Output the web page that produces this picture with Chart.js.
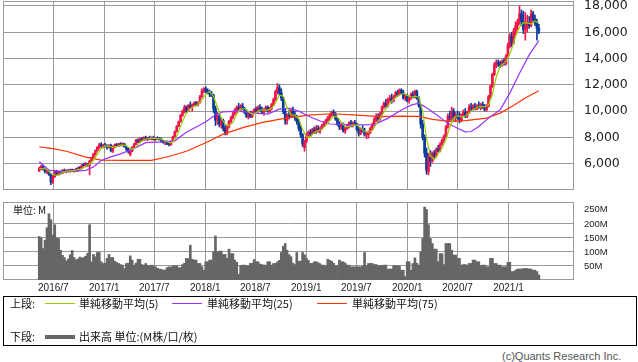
<!DOCTYPE html>
<html lang="ja">

  <head>
    <meta charset="UTF-8">
    <title>株価チャート</title>
    <script src="https://cdn.jsdelivr.net/npm/chart.js@4/dist/chart.umd.min.js"></script>
    <style>
      body { margin: 0; background: #fff; }
      #page { position: relative; width: 638px; height: 362px; overflow: hidden; font-family: 'Noto Sans CJK JP', sans-serif; color: #111; }
      #priceChart { position: absolute; left: 0; top: 0; }
      #volumeChart { position: absolute; left: 0; top: 196px; }
      .txt { position: absolute; font-size: 11px; line-height: 14px; white-space: nowrap; }
      .swatch { position: absolute; width: 30px; height: 0; border-top: 1px solid #000; }
      #legendBox { position: absolute; left: 3px; top: 296px; width: 634px; height: 50px; box-sizing: border-box; border: 1px solid #000; }
      #unit { position: absolute; left: 13px; top: 203px; font-size: 10px; line-height: 14px; }
      #copy { position: absolute; left: 502px; top: 350px; font: 11px 'Liberation Sans', sans-serif; color: #555; }
    </style>
  </head>

  <body>
    <div id="page">
      <canvas id="priceChart" width="638" height="196"></canvas>
      <canvas id="volumeChart" width="638" height="100"></canvas>
      <div id="unit">単位: M</div>
      <div id="legendBox"></div>
      <div class="txt" style="left:10px; top:296px">上段:</div>
      <div class="swatch" style="left:45px; top:303px; border-top-color:#99cc00"></div>
      <div class="txt" style="left:79px; top:296px">単純移動平均(5)</div>
      <div class="swatch" style="left:172px; top:303px; border-top-color:#9933ff"></div>
      <div class="txt" style="left:207px; top:296px">単純移動平均(25)</div>
      <div class="swatch" style="left:317px; top:303px; border-top-color:#ff3300"></div>
      <div class="txt" style="left:352px; top:296px">単純移動平均(75)</div>
      <div class="txt" style="left:10px; top:329px">下段:</div>
      <div class="swatch" style="left:45px; top:335px; border-top:4px solid #666"></div>
      <div class="txt" style="left:79px; top:329px">出来高 単位:(M株/口/枚)</div>
      <div id="copy">(c)Quants Research Inc.</div>
    </div>

    <script>
      // weekly candles, first week 2016-05-11
      const firstWeek = [2016, 5, 11]
      const monthLabels = ['2016/7', '2017/1', '2017/7', '2018/1', '2018/7', '2019/1', '2019/7', '2020/1', '2020/7', '2021/1']
      const priceTicks = [6000, 8000, 10000, 12000, 14000, 16000, 18000]
      const volumeTicks = [50, 100, 150, 200, 250]

      const opens = [
        5450, 5650, 5800, 5550, 5400, 5450, 5200, 4600, 5000, 5400,
        5250, 5350, 5300, 5500, 5400, 5450, 5400, 5550, 5450, 5500,
        5450, 5700, 5650, 5900, 5850, 5950, 5900, 6200, 6450, 6750,
        7000, 7250, 7450, 7350, 7400, 7300, 7250, 7400, 7000, 7300,
        7450, 7350, 7500, 7450, 7500, 7300, 7100, 6700, 6950, 7250,
        7500, 7800, 7650, 7900, 7800, 8000, 7850, 7950, 7900, 8000,
        7850, 7950, 7900, 7850, 7700, 7600, 7700, 7500, 7450, 7700,
        8050, 8450, 8850, 9200, 9700, 10000, 10300, 10000, 10450, 10300,
        10500, 10600, 10500, 10650, 11100, 11550, 11700, 11500, 11400, 11300,
        11200, 10200, 9300, 9600, 9000, 9300, 8700, 8400, 8800, 9200,
        9500, 9800, 10100, 10300, 10200, 10400, 10200, 9900, 9600, 9800,
        9600, 9900, 10100, 10000, 10300, 10100, 9900, 10100, 10300, 10000,
        10200, 10500, 10900, 11500, 11800, 11400, 11000, 10000, 9300, 9700,
        9600, 10000, 9700, 9500, 9200, 8700, 8200, 7200, 7700, 8200,
        8400, 8300, 8600, 8400, 8700, 8500, 8700, 8900, 9100, 9300,
        9500, 9700, 9900, 9700, 9400, 9000, 8800, 9000, 8500, 8700,
        8900, 9100, 8900, 9100, 9000, 8600, 8300, 8600, 8500, 8200,
        8200, 8400, 8700, 9000, 9400, 9600, 9400, 9800, 10300, 10600,
        10400, 10900, 11000, 10800, 11100, 11400, 11300, 11600, 11400, 11000,
        11200, 10800, 11000, 11300, 11100, 11500, 11000, 10400, 9000, 8000,
        6800, 5400, 6500, 6200, 6800, 6600, 7100, 7000, 7500, 7800,
        8100, 8800, 9600, 9400, 10000, 9500, 9700, 9600, 9300, 9700,
        9900, 9600, 9900, 10300, 10200, 10400, 10200, 10400, 10300, 10500,
        10300, 10100, 10400, 11100, 11900, 12800, 13500, 13700, 13600, 13500,
        13800, 13600, 14200, 15000, 15700, 15200, 16100, 16500, 16800, 17400,
        16800, 16200, 16400, 16700, 16500, 17400, 17000, 16700, 16300
      ]
      const highs = [
        5750, 5900, 5850, 5650, 5600, 5500, 5250, 5100, 5500, 5500,
        5450, 5450, 5550, 5600, 5550, 5550, 5600, 5600, 5550, 5650,
        5750, 5800, 5950, 6050, 6100, 6000, 6250, 6500, 6800, 7050,
        7300, 7550, 7600, 7500, 7550, 7450, 7450, 7500, 7350, 7500,
        7550, 7550, 7600, 7600, 7550, 7350, 7200, 7000, 7300, 7550,
        7850, 7900, 7950, 8000, 8050, 8100, 8000, 8100, 8050, 8100,
        8000, 8050, 8000, 7950, 7800, 7750, 7750, 7600, 7750, 8100,
        8500, 8900, 9250, 9750, 10100, 10450, 10400, 10500, 10700, 10550,
        10700, 10750, 10700, 11200, 11700, 11800, 11850, 11700, 11600, 11500,
        11300, 10400, 9900, 9800, 9500, 9400, 8900, 8900, 9300, 9600,
        9900, 10200, 10400, 10600, 10500, 10600, 10300, 10100, 9900, 10000,
        10000, 10200, 10300, 10400, 10500, 10300, 10200, 10400, 10400, 10300,
        10600, 11000, 11600, 12100, 12000, 11700, 11100, 10200, 9800, 10100,
        10200, 10300, 10000, 9700, 9400, 8900, 8300, 7800, 8300, 8500,
        8600, 8700, 8800, 8900, 8900, 8800, 9000, 9200, 9400, 9600,
        9800, 10000, 10100, 9900, 9500, 9200, 9100, 9100, 8800, 9000,
        9200, 9300, 9200, 9300, 9100, 8800, 8700, 8900, 8700, 8400,
        8500, 8800, 9100, 9500, 9800, 9800, 9900, 10400, 10700, 10900,
        11000, 11200, 11300, 11200, 11500, 11600, 11700, 11700, 11600, 11300,
        11300, 11100, 11400, 11500, 11600, 11600, 11100, 10500, 9300, 8200,
        7200, 6800, 7000, 6900, 7000, 7200, 7400, 7600, 7900, 8200,
        8900, 9800, 10000, 10300, 10200, 9900, 10000, 9900, 9800, 10100,
        10200, 10000, 10500, 10600, 10500, 10600, 10500, 10700, 10600, 10700,
        10500, 10500, 11200, 12000, 12900, 13700, 13900, 13900, 13800, 13900,
        14000, 14300, 15200, 15900, 16000, 16300, 16800, 17000, 18000, 17700,
        17600, 17500, 17300, 17200, 17700, 17600, 17300, 17000, 16600
      ]
      const lows = [
        5400, 5550, 5500, 5300, 5250, 5100, 4400, 4500, 4950, 5150,
        5150, 5200, 5250, 5350, 5300, 5350, 5350, 5400, 5350, 5400,
        5400, 5600, 5600, 5800, 5750, 5800, 5150, 6150, 6400, 6650,
        6950, 7150, 7250, 7200, 7250, 7100, 7200, 6900, 6850, 7200,
        7300, 7300, 7350, 7350, 7250, 7000, 6800, 6600, 6900, 7200,
        7450, 7600, 7600, 7750, 7750, 7800, 7750, 7850, 7800, 7800,
        7750, 7850, 7800, 7650, 7550, 7450, 7450, 7350, 7400, 7650,
        8000, 8400, 8800, 9150, 9600, 9850, 9900, 9950, 10200, 10000,
        10350, 10400, 10400, 10600, 11050, 11400, 11400, 11300, 11100, 11100,
        9900, 8900, 9000, 8800, 8700, 8500, 8200, 8200, 8700, 9100,
        9400, 9700, 9900, 10100, 10000, 10100, 9800, 9500, 9400, 9500,
        9500, 9800, 9900, 9900, 10000, 9800, 9700, 10000, 9900, 9900,
        10100, 10400, 10800, 11300, 11200, 10800, 9800, 9000, 9000, 9400,
        9500, 9600, 9300, 9000, 8500, 8000, 7300, 6950, 7600, 8000,
        8100, 8200, 8300, 8300, 8400, 8300, 8600, 8800, 9000, 9200,
        9300, 9600, 9600, 9300, 8900, 8600, 8600, 8400, 8300, 8600,
        8700, 8800, 8800, 8900, 8500, 8100, 8200, 8400, 8100, 7900,
        7950, 8300, 8600, 8900, 9200, 9200, 9300, 9700, 10200, 10300,
        10300, 10700, 10600, 10700, 11000, 11100, 11200, 11300, 10900, 10800,
        10700, 10600, 10900, 11000, 11000, 10900, 10300, 8700, 7800, 6500,
        5200, 5150, 5800, 6100, 6400, 6500, 6900, 6900, 7400, 7600,
        8000, 8700, 9300, 9300, 9300, 9200, 9400, 9100, 9200, 9600,
        9500, 9500, 9800, 10000, 10100, 10100, 10100, 10200, 10100, 10200,
        10000, 10000, 10300, 11000, 11800, 12700, 13300, 13400, 13300, 13400,
        13500, 13500, 14100, 14800, 14900, 15100, 15800, 16200, 16600, 16500,
        15900, 15400, 16000, 16300, 16400, 16800, 16500, 15400, 15900
      ]
      const closes = [
        5650, 5800, 5550, 5400, 5500, 5200, 4600, 5000, 5400, 5250,
        5350, 5300, 5500, 5400, 5450, 5400, 5550, 5450, 5500, 5450,
        5700, 5650, 5900, 5850, 6000, 5900, 6200, 6450, 6750, 7000,
        7250, 7450, 7350, 7400, 7300, 7250, 7400, 7000, 7300, 7450,
        7350, 7500, 7450, 7500, 7300, 7100, 6900, 6950, 7250, 7500,
        7800, 7650, 7900, 7800, 8000, 7850, 7950, 7900, 8000, 7850,
        7950, 7900, 7850, 7700, 7600, 7700, 7500, 7450, 7700, 8050,
        8450, 8850, 9200, 9700, 10000, 10300, 10000, 10450, 10300, 10500,
        10600, 10500, 10650, 11100, 11550, 11700, 11500, 11400, 11300, 11200,
        10200, 9300, 9600, 9000, 9300, 8700, 8400, 8800, 9200, 9500,
        9800, 10100, 10300, 10200, 10400, 10200, 9900, 9600, 9800, 9600,
        9900, 10100, 10000, 10300, 10100, 9900, 10100, 10300, 10000, 10200,
        10500, 10900, 11500, 11800, 11400, 11000, 10000, 9300, 9700, 9600,
        10000, 9700, 9500, 9200, 8700, 8200, 7500, 7700, 8200, 8400,
        8300, 8600, 8400, 8700, 8500, 8700, 8900, 9100, 9300, 9500,
        9700, 9900, 9700, 9400, 9000, 8800, 9000, 8500, 8700, 8900,
        9100, 8900, 9100, 9000, 8600, 8300, 8600, 8500, 8200, 8300,
        8400, 8700, 9000, 9400, 9600, 9400, 9800, 10300, 10600, 10400,
        10900, 11000, 10800, 11100, 11400, 11300, 11600, 11400, 11000, 11200,
        10800, 11000, 11300, 11100, 11500, 11000, 10400, 9000, 8000, 6800,
        5500, 6500, 6200, 6800, 6600, 7100, 7000, 7500, 7800, 8100,
        8800, 9600, 9500, 10000, 9500, 9700, 9600, 9300, 9700, 9900,
        9600, 9900, 10300, 10200, 10400, 10200, 10400, 10300, 10500, 10300,
        10100, 10400, 11100, 11900, 12800, 13500, 13700, 13600, 13500, 13800,
        13600, 14200, 15000, 15700, 15200, 16100, 16500, 16800, 17400, 16800,
        16200, 16400, 16700, 16500, 17400, 17000, 16700, 16300, 16100
      ]
      // 出来高 (M)
      const volumes = [
        155, 150, 112, 142, 186, 236, 215, 160, 197, 150,
        148, 106, 88, 80, 68, 75, 90, 105, 80, 72,
        75, 82, 78, 80, 85, 95, 197, 65, 91, 83,
        98, 98, 65, 59, 60, 77, 91, 80, 80, 67,
        62, 59, 55, 53, 41, 59, 60, 86, 71, 53,
        60, 74, 74, 55, 53, 59, 52, 50, 53, 50,
        47, 42, 39, 38, 35, 36, 44, 47, 46, 51,
        50, 51, 44, 44, 55, 60, 77, 76, 124, 74,
        71, 71, 59, 59, 47, 35, 65, 65, 71, 71,
        100, 157, 100, 103, 103, 91, 91, 77, 110, 94,
        94, 71, 63, 20, 51, 53, 53, 50, 50, 59,
        60, 73, 65, 65, 57, 55, 53, 53, 65, 65,
        53, 59, 59, 65, 70, 98, 120, 130, 106, 90,
        83, 60, 55, 98, 67, 67, 98, 90, 77, 70,
        59, 59, 65, 65, 62, 58, 53, 53, 51, 74,
        70, 67, 60, 51, 51, 71, 65, 65, 60, 53,
        53, 47, 47, 47, 47, 47, 47, 50, 98, 50,
        59, 59, 59, 55, 55, 51, 51, 51, 53, 53,
        39, 39, 39, 51, 51, 50, 50, 35, 35, 12,
        65, 65, 35, 59, 79, 60, 53, 100, 148, 260,
        251, 197, 148, 130, 110, 110, 65, 94, 94, 55,
        130, 130, 130, 106, 89, 89, 77, 77, 53, 55,
        55, 53, 59, 59, 71, 71, 65, 65, 51, 53,
        53, 47, 47, 77, 77, 59, 59, 53, 53, 47,
        47, 47, 63, 63, 30, 30, 35, 39, 39, 39,
        41, 41, 41, 39, 39, 35, 35, 30, 18
      ]
      // 単純移動平均(5): one reading every 2 weeks
      const ma5 = [
        5600, 5650, 5580, 5250, 5140, 5120, 5360, 5400, 5460,
        5470, 5530, 5640, 5820, 5970, 6260, 6730, 7160, 7350,
        7340, 7250, 7300, 7410, 7420, 7250, 7100, 7280, 7620,
        7830, 7900, 7940, 7930, 7910, 7800, 7670, 7590, 7830,
        8450, 9240, 9840, 10210, 10370, 10510, 10880, 11300, 11490,
        11120, 10320, 9480, 9000, 8880, 9140, 9780, 10160, 10200,
        9980, 9760, 9880, 10080, 10080, 10080, 10220, 10620, 11220,
        11140, 10280, 9720, 9700, 9420, 8620, 8060, 8020, 8380,
        8500, 8640, 8900, 9300, 9620, 9540, 9180, 8800, 8840,
        8940, 8940, 8720, 8440, 8400, 8520, 9020, 9440, 9940,
        10400, 10740, 11040, 11240, 11340, 11200, 11060, 11140, 11060,
        9980, 7940, 6600, 6320, 6740, 7200, 7840, 8760, 9480,
        9660, 9560, 9620, 9880, 10080, 10300, 10360, 10320, 10480,
        11260, 12600, 13420, 13640, 14020, 14740, 15700, 16400, 16740,
        16700, 16640, 16860, 16700
      ]
      // 単純移動平均(25)
      const ma25Weeks = [0, 5, 10, 16, 21, 24, 28, 32, 37, 42, 48, 55, 64, 70, 76, 83, 86, 91, 95, 103, 111, 118, 124, 129, 134, 140, 145, 150, 164, 173, 180, 187, 192, 196, 200, 205, 211, 216, 220, 223, 227, 232, 238, 243, 248, 253, 258]
      const ma25Values = [6150, 5520, 5420, 5420, 5480, 5500, 5750, 6250, 6520, 6750, 7090, 7600, 7660, 7740, 8400, 8950, 9200, 9700, 9950, 10000, 9850, 9780, 10150, 10220, 10000, 9550, 9250, 9020, 8950, 8980, 9450, 10080, 10460, 10600, 10250, 9750, 9070, 8700, 8420, 8450, 8830, 9470, 10100, 11370, 12890, 14280, 15370]
      // 単純移動平均(75)
      const ma75Weeks = [0, 7, 14, 24, 32, 43, 58, 67, 76, 86, 95, 106, 116, 126, 139, 151, 164, 176, 186, 196, 203, 212, 220, 231, 238, 244, 251, 258]
      const ma75Values = [7290, 7150, 6950, 6500, 6270, 6250, 6250, 6550, 6950, 7600, 8250, 8780, 9170, 9430, 9690, 9800, 9690, 9580, 9620, 9600, 9380, 9220, 9280, 9470, 9850, 10360, 11000, 11550]

      const gridColor = '#9a9a9a'
      const upColor = '#f0164a'
      const downColor = '#0b3a9c'

      // x axis in days since 2016-01-01
      const base = Date.UTC(2016, 0, 1)
      const toDay = (y, m, d) => (Date.UTC(y, m - 1, d) - base) / 86400000
      const startDay = toDay(...firstWeek)
      const weekX = closes.map((c, i) => startDay + 7 * i)
      const monthX = monthLabels.map(l => {
        const [y, m] = l.split('/').map(Number)
        return toDay(y, m, 1)
      })
      const xMin = 0
      const xMax = 2064

      const isUp = i => closes[i] >= opens[i]
      const candleColor = c => isUp(c.dataIndex) ? upColor : downColor

      const framePlugin = {
        id: 'frame',
        beforeDatasetsDraw(chart) {
          const { ctx, chartArea: a } = chart
          ctx.save()
          ctx.strokeStyle = gridColor
          ctx.lineWidth = 1
          ctx.strokeRect(Math.round(a.left) + 0.5, Math.round(a.top) + 0.5,
            Math.round(a.right - a.left) - 1, Math.round(a.bottom - a.top) - 1)
          ctx.restore()
        }
      }

      const xScale = (showLabels, height) => ({
        type: 'linear',
        min: xMin,
        max: xMax,
        offset: false,
        afterBuildTicks: s => { s.ticks = monthX.map(v => ({ value: v })) },
        ticks: {
          display: showLabels,
          autoSkip: false,
          maxRotation: 0,
          padding: 2,
          color: '#222',
          font: { family: 'Liberation Sans', size: 10 },
          callback: (v, i) => monthLabels[i]
        },
        grid: { color: gridColor, drawTicks: false, offset: false },
        border: { display: false },
        afterFit: s => { s.height = height; s.paddingLeft = 0; s.paddingRight = 0 }
      })

      const line = (data, color) => ({
        type: 'line',
        data,
        borderColor: color,
        borderWidth: 1.2,
        pointRadius: 0,
        fill: false,
        tension: 0
      })

      Chart.defaults.font.family = 'DejaVu Sans'

      new Chart(document.getElementById('priceChart'), {
        type: 'bar',
        data: {
          datasets: [
            { ...line(ma5.map((v, k) => ({ x: weekX[k * 2], y: v })), '#99cc00'), order: 0 },
            { ...line(ma25Weeks.map((w, k) => ({ x: weekX[w], y: ma25Values[k] })), '#9933ff'), order: 1 },
            { ...line(ma75Weeks.map((w, k) => ({ x: weekX[w], y: ma75Values[k] })), '#ff3300'), order: 2 },
            {
              data: opens.map((o, i) => ({ x: weekX[i], y: [o, closes[i]] })),
              backgroundColor: candleColor,
              barThickness: 2,
              minBarLength: 1,
              grouped: false,
              order: 3
            },
            {
              data: lows.map((l, i) => ({ x: weekX[i], y: [l, highs[i]] })),
              backgroundColor: candleColor,
              barThickness: 1,
              grouped: false,
              order: 4
            }
          ]
        },
        options: {
          responsive: false,
          animation: false,
          events: [],
          layout: { padding: { left: 3, top: 1, right: 0, bottom: 0 } },
          plugins: { legend: { display: false }, tooltip: { enabled: false } },
          scales: {
            x: xScale(false, 6),
            y: {
              position: 'right',
              min: 4000,
              max: 18380,
              afterBuildTicks: s => { s.ticks = priceTicks.map(v => ({ value: v })) },
              ticks: {
                padding: 10,
                color: '#222',
                font: { family: 'DejaVu Sans', size: 12.5 },
                callback: v => v.toLocaleString('en-US')
              },
              grid: { color: gridColor, drawTicks: false },
              border: { display: false },
              afterFit: s => { s.width = 64; s.paddingTop = 0; s.paddingBottom = 0 }
            }
          }
        },
        plugins: [framePlugin]
      })

      new Chart(document.getElementById('volumeChart'), {
        type: 'bar',
        data: {
          datasets: [{
            data: volumes.map((v, i) => ({ x: weekX[i], y: v })),
            backgroundColor: '#666666',
            barThickness: 2,
            grouped: false
          }]
        },
        options: {
          responsive: false,
          animation: false,
          events: [],
          layout: { padding: { left: 3, top: 6, right: 0, bottom: 0 } },
          plugins: { legend: { display: false }, tooltip: { enabled: false } },
          scales: {
            x: xScale(true, 16),
            y: {
              position: 'right',
              min: 0,
              max: 278,
              afterBuildTicks: s => { s.ticks = volumeTicks.map(v => ({ value: v })) },
              ticks: {
                padding: 10,
                color: '#222',
                font: { family: 'Liberation Sans', size: 9.5 },
                callback: v => v + 'M'
              },
              grid: { color: c => c.tick && c.tick.value === 250 ? 'rgba(0,0,0,0)' : gridColor, drawTicks: false },
              border: { display: false },
              afterFit: s => { s.width = 64; s.paddingTop = 0; s.paddingBottom = 0 }
            }
          }
        },
        plugins: [framePlugin]
      })
    </script>
  </body>

</html>
